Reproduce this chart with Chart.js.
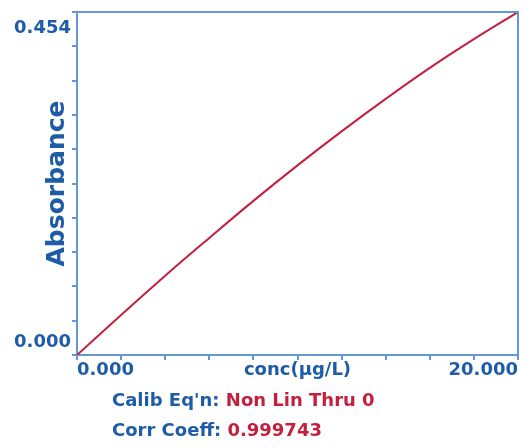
<!DOCTYPE html>
<html>
<head>
<meta charset="utf-8">
<script src="https://cdn.jsdelivr.net/npm/chart.js@4.4.1/dist/chart.umd.min.js"></script>
<style>
  html, body { margin: 0; padding: 0; background: #fff; }
  #wrap { width: 527px; height: 448px; }
</style>
</head>
<body>
<div id="wrap"><canvas id="calib"></canvas></div>
<script>
// calibration curve
const conc = [0, 2, 4, 6, 8, 10, 12, 14, 16, 18, 20];
const absorbance = [0, 0.053, 0.105, 0.155, 0.204, 0.251, 0.296, 0.339, 0.380, 0.418, 0.454];

const yTickValues = [0, 0.454];
const yTickLabels = ["0.000", "0.454"];
const xTickLabels = { 0: "0.000", 10: "conc(\u00b5g/L)", 20: "20.000" };

const footLabels = ["Calib Eq'n: ", "Corr Coeff: "];
const footValues = ["Non Lin Thru 0", "0.999743"];

const axisBlue = "#6498d6";
const textBlue = "#1f5ca8";
const red = "#c3203e";
const fontFam = "'DejaVu Sans', Verdana, sans-serif";

const points = conc.map((c, i) => ({ x: c, y: absorbance[i] }));

// y labels sit inside the axis span, footer is two coloured lines
const extras = {
    id: "extras",
    afterDraw(chart) {
        const ctx = chart.ctx;
        const area = chart.chartArea;
        const ys = chart.scales.y;

        ctx.save();
        ctx.strokeStyle = axisBlue;
        ctx.lineWidth = 2;
        ctx.beginPath();
        ctx.moveTo(area.left, area.top);
        ctx.lineTo(area.right, area.top);
        ctx.lineTo(area.right, area.bottom);
        ctx.stroke();

        ctx.font = "bold 18px " + fontFam;
        ctx.fillStyle = textBlue;
        ctx.textAlign = "right";
        ctx.textBaseline = "middle";
        for (let i = 0; i < yTickValues.length; i++) {
            let py = ys.getPixelForValue(yTickValues[i]);
            py += yTickValues[i] == 0 ? -13 : 16;
            ctx.fillText(yTickLabels[i], area.left - 6, py);
        }

        ctx.textAlign = "left";
        for (let i = 0; i < footLabels.length; i++) {
            const fy = 401 + i * 30;
            ctx.fillStyle = textBlue;
            ctx.fillText(footLabels[i], 112, fy);
            const w = ctx.measureText(footLabels[i]).width;
            ctx.fillStyle = red;
            ctx.fillText(footValues[i], 112 + w, fy);
        }
        ctx.restore();
    }
};

new Chart(document.getElementById("calib"), {
    type: "line",
    data: {
        datasets: [{
            data: points,
            borderColor: red,
            borderWidth: 2,
            pointRadius: 0,
            tension: 0.4,
            fill: false
        }]
    },
    options: {
        responsive: true,
        maintainAspectRatio: false,
        animation: false,
        layout: { padding: { top: 12, right: 9, left: 0, bottom: 0 } },
        plugins: {
            legend: { display: false },
            tooltip: { enabled: false }
        },
        scales: {
            x: {
                type: "linear",
                min: 0,
                max: 20,
                afterFit: function (scale) { scale.height = 93; },
                grid: {
                    drawOnChartArea: false,
                    color: axisBlue,
                    tickLength: 5,
                    lineWidth: 2
                },
                border: { color: axisBlue, width: 2 },
                ticks: {
                    count: 11,
                    align: "inner",
                    autoSkip: false,
                    maxRotation: 0,
                    padding: 0,
                    color: textBlue,
                    font: { family: fontFam, size: 18, weight: "bold" },
                    callback: function (v) { return xTickLabels[Math.round(v)] && Math.abs(v - Math.round(v)) < 1e-6 ? xTickLabels[Math.round(v)] : ""; }
                }
            },
            y: {
                min: 0,
                max: 0.454,
                afterFit: function (scale) { scale.width = 77; },
                grid: {
                    drawOnChartArea: false,
                    color: axisBlue,
                    tickLength: 5,
                    lineWidth: 2
                },
                border: { color: axisBlue, width: 2 },
                ticks: {
                    count: 11,
                    callback: function () { return ""; }
                },
                title: {
                    display: true,
                    text: "Absorbance",
                    color: textBlue,
                    font: { family: fontFam, size: 25, weight: "bold" },
                    padding: { top: 42, bottom: 0 }
                }
            }
        }
    },
    plugins: [extras]
});
</script>
</body>
</html>
